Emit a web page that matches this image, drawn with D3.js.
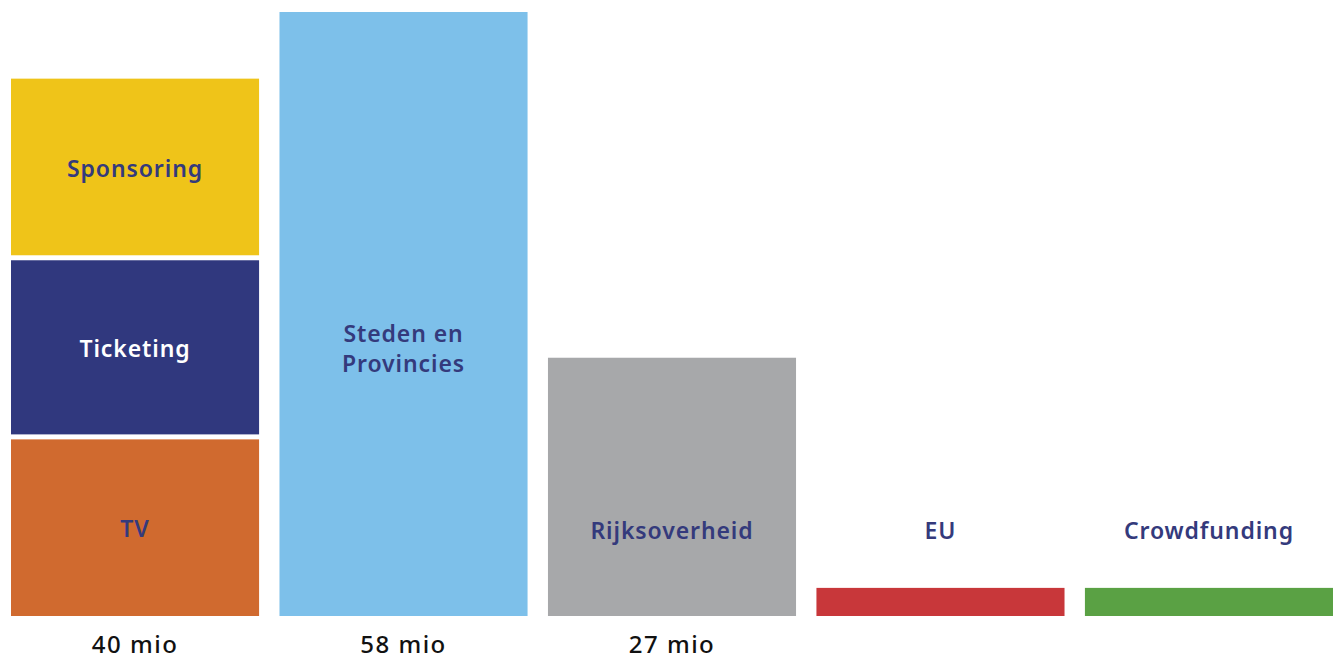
<!DOCTYPE html>
<html><head><meta charset="utf-8">
<script src="https://cdn.jsdelivr.net/npm/d3@7"></script>
<style>body{margin:0;background:#fff}svg{display:block}</style>
</head><body>
<script>
// Columns and totals (labels as printed)
const columns = ["Eigen", "Steden en Provincies", "Rijksoverheid", "EU", "Crowdfunding"];
const totalLabels = ["40 mio", "58 mio", "27 mio", "", ""];
// Stacked segments of the first column (bar heights as drawn, in mio)
const stackSegments = ["TV", "Ticketing", "Sponsoring"];
const stackValues = [17.2, 17.2, 17.2];
// Single bars (heights as drawn, in mio)
const singleNames = ["Steden en Provincies", "Rijksoverheid", "EU", "Crowdfunding"];
const singleValues = [58, 24.8, 2.7, 2.7];
const singleLabelLines = [["Steden en", "Provincies"], ["Rijksoverheid"], ["EU"], ["Crowdfunding"]];

const colors = {
  "TV": "#d06a2f", "Ticketing": "#30387e", "Sponsoring": "#efc419",
  "Steden en Provincies": "#7dc0ea", "Rijksoverheid": "#a7a8aa",
  "EU": "#c8373a", "Crowdfunding": "#5aa144"
};
const textColor = "#343a7c";

const W = 1336, H = 660;
const svg = d3.select("body").append("svg").attr("width", W).attr("height", H);

const x = d3.scaleBand().domain(columns).range([11, 1333]).paddingInner(0.076).paddingOuter(0);
const y = d3.scaleLinear().domain([0, 58]).range([616, 12]);
const font = "'Noto Sans', sans-serif";
const labelSize = 23, labelSpacing = 0.9;

// stacked column
let acc = 0;
const gap = 2.5;
stackSegments.forEach((name, i) => {
  const y0 = acc, y1 = acc + stackValues[i];
  acc = y1;
  const top = y(y1) + (i < stackSegments.length - 1 ? gap : 0);
  const bot = y(y0) - (i > 0 ? gap : 0);
  svg.append("rect").attr("x", x(columns[0])).attr("width", x.bandwidth())
    .attr("y", top).attr("height", bot - top).attr("fill", colors[name]);
  svg.append("text").attr("x", x(columns[0]) + x.bandwidth() / 2)
    .attr("y", (top + bot) / 2 + 1.5).attr("dy", "0.35em")
    .attr("text-anchor", "middle").attr("font-family", font).attr("font-weight", 600)
    .attr("font-size", labelSize).attr("letter-spacing", labelSpacing)
    .attr("fill", name === "Ticketing" ? "#ffffff" : textColor)
    .text(name);
});

// single bars
singleNames.forEach((name, i) => {
  svg.append("rect").attr("x", x(name)).attr("width", x.bandwidth())
    .attr("y", y(singleValues[i])).attr("height", y(0) - y(singleValues[i]))
    .attr("fill", colors[name]);
});

// labels of single bars
const labelY = [349, 531, 531, 531];
const lineGap = 30;
singleNames.forEach((name, i) => {
  const lines = singleLabelLines[i];
  lines.forEach((ln, j) => {
    svg.append("text").attr("text-anchor", "middle").attr("font-family", font)
      .attr("font-weight", 600).attr("font-size", labelSize).attr("letter-spacing", labelSpacing)
      .attr("fill", textColor)
      .attr("x", x(name) + x.bandwidth() / 2)
      .attr("y", labelY[i] + (j - (lines.length - 1) / 2) * lineGap).attr("dy", "0.35em").text(ln);
  });
});

// totals
columns.forEach((c, i) => {
  if (!totalLabels[i]) return;
  svg.append("text").attr("x", x(c) + x.bandwidth() / 2).attr("y", 645).attr("dy", "0.35em")
    .attr("text-anchor", "middle").attr("font-family", font).attr("font-weight", 500)
    .attr("font-size", 24).attr("letter-spacing", 1.5).attr("fill", "#111").text(totalLabels[i]);
});
</script>
</body></html>
